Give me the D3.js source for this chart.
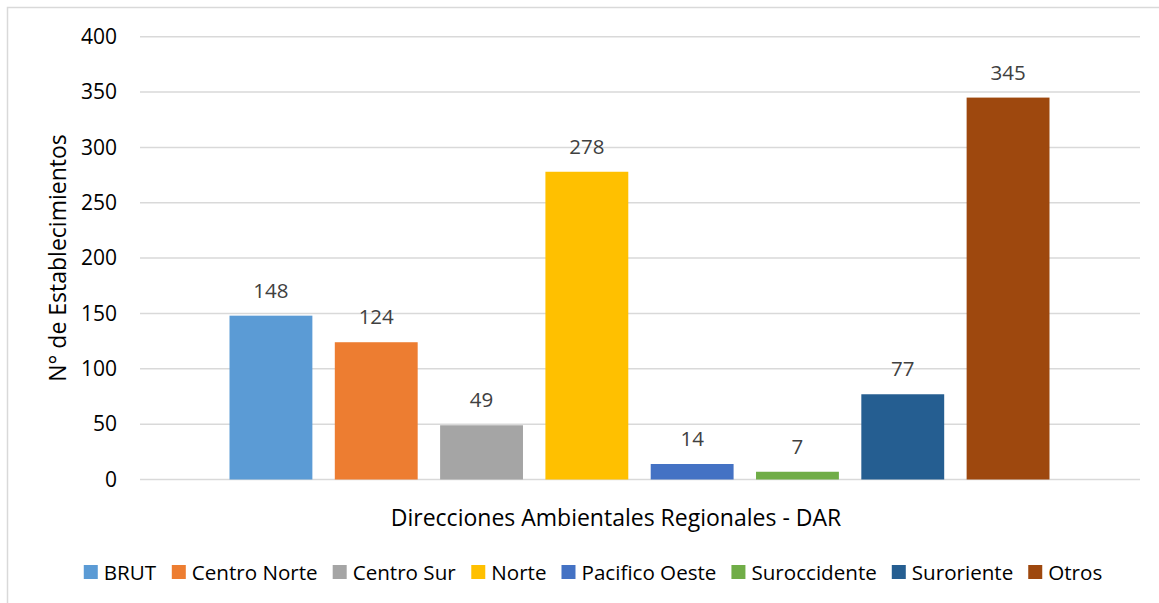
<!DOCTYPE html>
<html>
<head>
<meta charset="utf-8">
<script src="https://cdn.jsdelivr.net/npm/d3@7"></script>
<style>
  body { margin: 0; background: #fff; }
  svg text { font-family: "Open Sans", "Noto Sans", sans-serif; }
</style>
</head>
<body>
<div id="chart"></div>
<script>
/* data */
var series = ["BRUT", "Centro Norte", "Centro Sur", "Norte", "Pacifico Oeste", "Suroccidente", "Suroriente", "Otros"];
var values = [148, 124, 49, 278, 14, 7, 77, 345];
var colors = ["#5B9BD5", "#ED7D31", "#A5A5A5", "#FFC000", "#4472C4", "#70AD47", "#255E91", "#9E480E"];
var yTicks = [0, 50, 100, 150, 200, 250, 300, 350, 400];

var width = 1159, height = 603;
var margin = {left: 140, right: 19, top: 37, bottom: 123};

var svg = d3.select("#chart").append("svg")
            .attr("width", width)
            .attr("height", height);

// chart border (clipped on right and bottom)
svg.append("rect")
   .attr("x", 7.5).attr("y", 7.5)
   .attr("width", width + 20).attr("height", height + 20)
   .style("fill", "none")
   .style("stroke", "#d9d9d9")
   .style("stroke-width", 1.5);

var y = d3.scaleLinear()
          .domain([0, 400])
          .range([479.5, 36.7]);

// one category, 8 series: gap width ~216%, overlap -27%
var x = d3.scaleBand()
          .domain(series)
          .range([229.5, 1049.5])
          .paddingInner(0.213)
          .paddingOuter(0);

// gridlines
svg.append("g")
   .selectAll("line")
   .data(yTicks)
   .enter()
   .append("line")
   .attr("x1", margin.left)
   .attr("x2", 1140)
   .attr("y1", function(d) { return y(d); })
   .attr("y2", function(d) { return y(d); })
   .style("stroke", "#d9d9d9")
   .style("stroke-width", 1.5);

// y axis labels
var yAxis = d3.axisLeft(y).tickValues(yTicks).tickSize(0).tickPadding(0);
var gy = svg.append("g")
            .attr("transform", "translate(117,0)")
            .call(yAxis);
gy.select(".domain").remove();
gy.selectAll("text")
  .style("font-size", "21px")
  .style("fill", "#000");

// bars
svg.append("g")
   .selectAll("rect")
   .data(values)
   .enter()
   .append("rect")
   .attr("x", function(d, i) { return x(series[i]); })
   .attr("width", x.bandwidth())
   .attr("y", function(d) { return y(d); })
   .attr("height", function(d) { return y(0) - y(d); })
   .style("fill", function(d, i) { return colors[i]; });

// data labels
svg.append("g")
   .selectAll("text")
   .data(values)
   .enter()
   .append("text")
   .attr("x", function(d, i) { return x(series[i]) + x.bandwidth() / 2; })
   .attr("y", function(d) { return y(d) - 18; })
   .attr("text-anchor", "middle")
   .style("font-size", "20.5px")
   .style("fill", "#404040")
   .text(function(d) { return d; });

// axis titles
svg.append("text")
   .attr("x", 616)
   .attr("y", 526)
   .attr("text-anchor", "middle")
   .style("font-size", "23px")
   .style("fill", "#000")
   .text("Direcciones Ambientales Regionales - DAR");

svg.append("text")
   .attr("transform", "translate(66,258) rotate(-90)")
   .attr("text-anchor", "middle")
   .style("font-size", "23px")
   .style("fill", "#000")
   .text("N° de Establecimientos");

// legend
var legend = svg.append("g");
var items = legend.selectAll("g")
                  .data(series)
                  .enter()
                  .append("g");
items.append("rect")
     .attr("width", 14).attr("height", 14)
     .attr("y", -7)
     .style("fill", function(d, i) { return colors[i]; });
items.append("text")
     .attr("x", 20)
     .attr("y", 7.5)
     .style("font-size", "20.6px")
     .style("fill", "#000")
     .text(function(d) { return d; });

var pos = 0, offsets = [];
items.each(function() {
  offsets.push(pos);
  pos += this.getBBox().width + 15;
});
var total = pos - 15;
var startX = 593 - total / 2;
items.attr("transform", function(d, i) { return "translate(" + (startX + offsets[i]) + ",572)"; });
</script>
</body>
</html>
